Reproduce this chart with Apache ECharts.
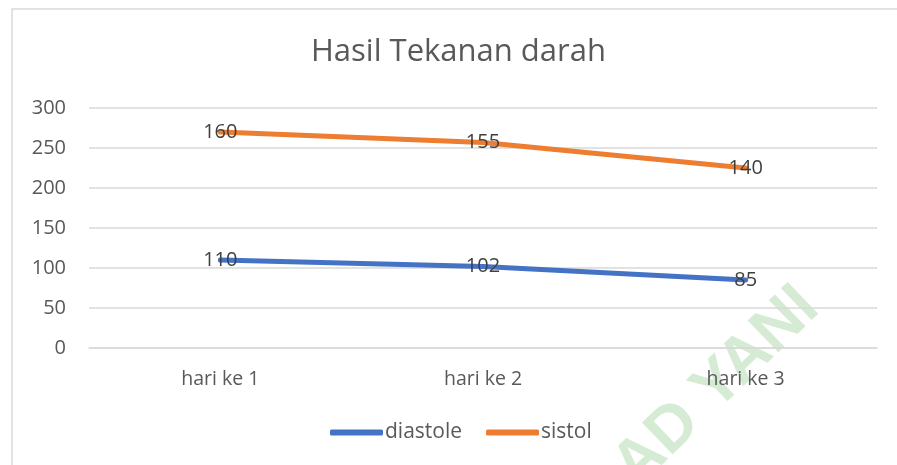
<!DOCTYPE html>
<html>
<head>
<meta charset="utf-8">
<title>Hasil Tekanan darah</title>
<script src="https://cdn.jsdelivr.net/npm/echarts@6/dist/echarts.min.js"></script>
<style>
  html, body { margin: 0; padding: 0; background: #ffffff; }
  #chart { width: 897px; height: 465px; }
</style>
</head>
<body>
<div id="chart"></div>
<script>
  // data
  var hari = ['hari ke 1', 'hari ke 2', 'hari ke 3'];
  var diastole = [110, 102, 85];
  var sistol = [160, 155, 140];
  var yTicks = [0, 50, 100, 150, 200, 250, 300];

  var fontName = '"Open Sans", Lato, sans-serif';
  var chart = echarts.init(document.getElementById('chart'));

  var lineSeries = function (name, data, color) {
    return {
      name: name,
      type: 'line',
      stack: 'total',
      data: data,
      symbol: 'circle',
      symbolSize: 2,
      itemStyle: { color: color },
      lineStyle: { color: color, width: 5, cap: 'round' },
      label: {
        show: true,
        position: 'inside',
        color: '#404040',
        fontFamily: fontName,
        fontSize: 20
      },
      emphasis: { disabled: true },
      z: 3
    };
  };

  var option = {
    backgroundColor: '#ffffff',
    animation: false,
    title: {
      text: 'Hasil Tekanan darah',
      left: 306,
      top: 32,
      textStyle: {
        color: '#595959',
        fontFamily: fontName,
        fontWeight: 'normal',
        fontSize: 31
      }
    },
    legend: {
      left: 325,
      top: 417,
      icon: 'roundRect',
      itemWidth: 53,
      itemHeight: 6,
      itemGap: 24,
      textStyle: {
        color: '#595959',
        fontFamily: fontName,
        fontSize: 21,
        padding: [0, 0, 0, -3]
      },
      data: ['diastole', 'sistol']
    },
    grid: { left: 89, right: 20, top: 108, bottom: 117 },
    xAxis: {
      type: 'category',
      data: hari,
      boundaryGap: true,
      axisLine: { show: true, lineStyle: { color: '#d9d9d9', width: 1.5 } },
      axisTick: { show: false },
      axisLabel: {
        color: '#595959',
        fontFamily: fontName,
        fontSize: 19.5,
        margin: 21
      }
    },
    yAxis: {
      type: 'value',
      min: yTicks[0],
      max: yTicks[yTicks.length - 1],
      interval: yTicks[1] - yTicks[0],
      axisLine: { show: false },
      axisTick: { show: false },
      splitLine: { lineStyle: { color: '#d9d9d9', width: 1.5 } },
      axisLabel: {
        color: '#595959',
        fontFamily: fontName,
        fontSize: 20,
        margin: 23
      }
    },
    graphic: [
      {
        // chart border, only left and top show inside the picture
        type: 'rect',
        shape: { x: 12, y: 9, width: 900, height: 470 },
        style: { fill: 'none', stroke: '#d9d9d9', lineWidth: 1.5 },
        silent: true,
        z: -10
      },
      {
        // watermark
        type: 'text',
        x: 809,
        y: 298,
        rotation: 44 * Math.PI / 180,
        style: {
          text: 'AD YANI',
          fill: '#d5ebd3',
          fontFamily: '"Liberation Sans", Arial, sans-serif',
          fontWeight: 'bold',
          fontSize: 64,
          align: 'right',
          verticalAlign: 'middle'
        },
        silent: true,
        z: -5
      }
    ],
    series: [
      lineSeries('diastole', diastole, '#4472c4'),
      lineSeries('sistol', sistol, '#ed7d31')
    ]
  };

  chart.setOption(option);
</script>
</body>
</html>
